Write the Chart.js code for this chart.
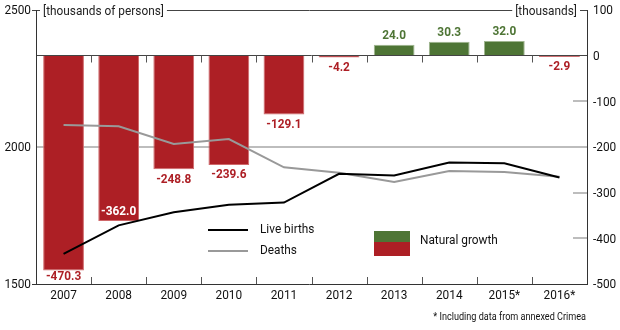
<!DOCTYPE html>
<html><head><meta charset="utf-8">
<script src="https://cdn.jsdelivr.net/npm/chart.js@4/dist/chart.umd.min.js"></script>
<style>html,body{margin:0;padding:0;background:#fff}#w{width:620px;height:330px;position:relative}</style>
</head><body><div id="w"><canvas id="c" width="620" height="330"></canvas></div>
<script>
const categories = ['2007','2008','2009','2010','2011','2012','2013','2014','2015*','2016*'];
const liveBirths = [1610, 1714, 1762, 1789, 1797, 1902, 1896, 1943, 1941, 1889];
const deaths = [2080, 2076, 2011, 2029, 1926, 1906, 1872, 1912, 1909, 1891];
const naturalGrowth = [-470.3, -362.0, -248.8, -239.6, -129.1, -4.2, 24.0, 30.3, 32.0, -2.9];
const leftTicks = [1500, 2000, 2500];
const rightTicks = [100, 0, -100, -200, -300, -400, -500];
const leftTitle = '[thousands of persons]';
const rightTitle = '[thousands]';
const footnote = '* Including data from annexed Crimea';
const legendLabels = ['Live births', 'Deaths', 'Natural growth'];

const RED = '#ad1f25', RED_B = '#d0686a', GREEN = '#4e7535', GREEN_B = '#9fb58f';
const FONT = 'Roboto, "Liberation Sans", sans-serif';
const SQ = 0.91;

function txt(ctx, s, x, y, align) {
  // condensed text: draw with horizontal scaling
  ctx.save();
  ctx.translate(x, y);
  ctx.scale(SQ, 1);
  ctx.textAlign = align;
  ctx.fillText(s, 0, 0);
  ctx.restore();
}
function txtWidth(ctx, s) { return ctx.measureText(s).width * SQ; }

const deco = {
  id: 'deco',
  beforeDatasetsDraw(chart) {
    const ctx = chart.ctx, a = chart.chartArea;
    const y = chart.scales.y, y2 = chart.scales.y2;
    ctx.save();
    ctx.strokeStyle = '#bdbdbd'; ctx.lineWidth = 2;
    let gy = Math.round(y.getPixelForValue(2000));
    ctx.beginPath(); ctx.moveTo(a.left, gy); ctx.lineTo(a.right, gy); ctx.stroke();
    rightTicks.forEach(v => {
      if (v === 100 || v === 0 || v === -500) return;
      const py = Math.round(y2.getPixelForValue(v));
      ctx.beginPath(); ctx.moveTo(a.right - 14, py); ctx.lineTo(a.right, py); ctx.stroke();
    });
    ctx.restore();
  },
  afterDatasetsDraw(chart) {
    const ctx = chart.ctx, a = chart.chartArea;
    const x = chart.scales.x, y = chart.scales.y, y2 = chart.scales.y2;
    ctx.save();
    const zy = Math.floor(y2.getPixelForValue(0)) + 0.5;
    ctx.strokeStyle = '#444'; ctx.lineWidth = 1;
    ctx.beginPath(); ctx.moveTo(a.left, zy); ctx.lineTo(a.right, zy); ctx.stroke();
    const ty = Math.round(a.top) + 0.5;
    ctx.beginPath(); ctx.moveTo(a.left - 4, ty); ctx.lineTo(a.right, ty); ctx.stroke();
    ctx.strokeStyle = '#333';
    ctx.beginPath();
    ctx.moveTo(Math.round(a.left) + 0.5, a.top); ctx.lineTo(Math.round(a.left) + 0.5, a.bottom + 1);
    ctx.moveTo(Math.round(a.right) + 0.5, a.top); ctx.lineTo(Math.round(a.right) + 0.5, a.bottom + 1);
    ctx.moveTo(a.left - 4, Math.round(a.bottom) + 0.5); ctx.lineTo(a.right, Math.round(a.bottom) + 0.5);
    ctx.stroke();
    const half = (x.getPixelForValue(1) - x.getPixelForValue(0)) / 2;
    ctx.strokeStyle = '#555';
    for (let i = 1; i < categories.length; i++) {
      const bx = Math.round(x.getPixelForValue(i) - half) + 0.5;
      ctx.beginPath(); ctx.moveTo(bx, zy); ctx.lineTo(bx, zy + 7); ctx.stroke();
      ctx.beginPath(); ctx.moveTo(bx, a.bottom); ctx.lineTo(bx, a.bottom - 7); ctx.stroke();
    }
    ctx.font = '13px ' + FONT; ctx.textBaseline = 'middle';
    ctx.fillStyle = '#fff';
    let w1 = txtWidth(ctx, leftTitle);
    ctx.fillRect(a.left + 4, ty - 8, w1 + 6, 16);
    let w2 = txtWidth(ctx, rightTitle);
    ctx.fillRect(a.right - 13 - w2, ty - 8, w2 + 6, 16);
    ctx.fillStyle = '#222';
    txt(ctx, leftTitle, a.left + 7, ty + 1, 'left');
    txt(ctx, rightTitle, a.right - 10, ty + 1, 'right');
    ctx.fillStyle = '#111';
    leftTicks.forEach(v => txt(ctx, String(v), a.left - 5, y.getPixelForValue(v) + 1, 'right'));
    rightTicks.forEach(v => txt(ctx, String(v), a.right + 6, y2.getPixelForValue(v) + 1, 'left'));
    categories.forEach((c, i) => txt(ctx, c, x.getPixelForValue(i), a.bottom + 12, 'center'));
    ctx.font = 'bold 13px ' + FONT;
    const meta = chart.getDatasetMeta(0);
    naturalGrowth.forEach((v, i) => {
      const bar = meta.data[i];
      const s = v.toFixed(1);
      if (v >= 0) {
        ctx.fillStyle = GREEN; txt(ctx, s, bar.x, bar.y - 9, 'center');
      } else if (i === 1) {
        ctx.fillStyle = '#fff'; txt(ctx, s, bar.x, bar.y - 9, 'center');
      } else {
        ctx.fillStyle = RED; txt(ctx, s, bar.x, bar.y + (i === 0 ? 6 : 10), 'center');
      }
    });
    ctx.lineWidth = 2;
    ctx.strokeStyle = '#000';
    ctx.beginPath(); ctx.moveTo(208, 230); ctx.lineTo(248, 230); ctx.stroke();
    ctx.strokeStyle = '#999';
    ctx.beginPath(); ctx.moveTo(208, 251); ctx.lineTo(248, 251); ctx.stroke();
    ctx.font = '13px ' + FONT; ctx.fillStyle = '#111';
    txt(ctx, legendLabels[0], 260, 230, 'left');
    txt(ctx, legendLabels[1], 260, 251, 'left');
    ctx.fillStyle = GREEN; ctx.fillRect(374, 231, 36, 11);
    ctx.fillStyle = RED; ctx.fillRect(374, 242, 36, 14);
    ctx.fillStyle = '#111';
    txt(ctx, legendLabels[2], 420, 241, 'left');
    ctx.font = '10px ' + FONT;
    txt(ctx, footnote, a.right - 1, 317, 'right');
    ctx.restore();
  }
};

new Chart(document.getElementById('c'), {
  data: {
    labels: categories,
    datasets: [
      { type: 'bar', data: naturalGrowth, yAxisID: 'y2', order: 2,
        backgroundColor: naturalGrowth.map(v => v >= 0 ? GREEN : RED),
        borderColor: naturalGrowth.map(v => v >= 0 ? GREEN_B : RED_B),
        borderWidth: 1, borderSkipped: 'start',
        categoryPercentage: 1, barPercentage: 0.74 },
      { type: 'line', data: liveBirths, yAxisID: 'y', order: 1, borderColor: '#000', borderWidth: 2,
        pointRadius: 0, tension: 0 },
      { type: 'line', data: deaths, yAxisID: 'y', order: 1, borderColor: '#999', borderWidth: 2,
        pointRadius: 0, tension: 0 }
    ]
  },
  options: {
    responsive: false, animation: false, devicePixelRatio: 1,
    layout: { padding: { left: 36, right: 33, top: 10, bottom: 46 } },
    plugins: { legend: { display: false }, tooltip: { enabled: false } },
    scales: {
      x: { display: false, offset: true },
      y: { display: false, min: 1500, max: 2500 },
      y2: { display: false, min: -500, max: 100, position: 'right' }
    }
  },
  plugins: [deco]
});
</script></body></html>
